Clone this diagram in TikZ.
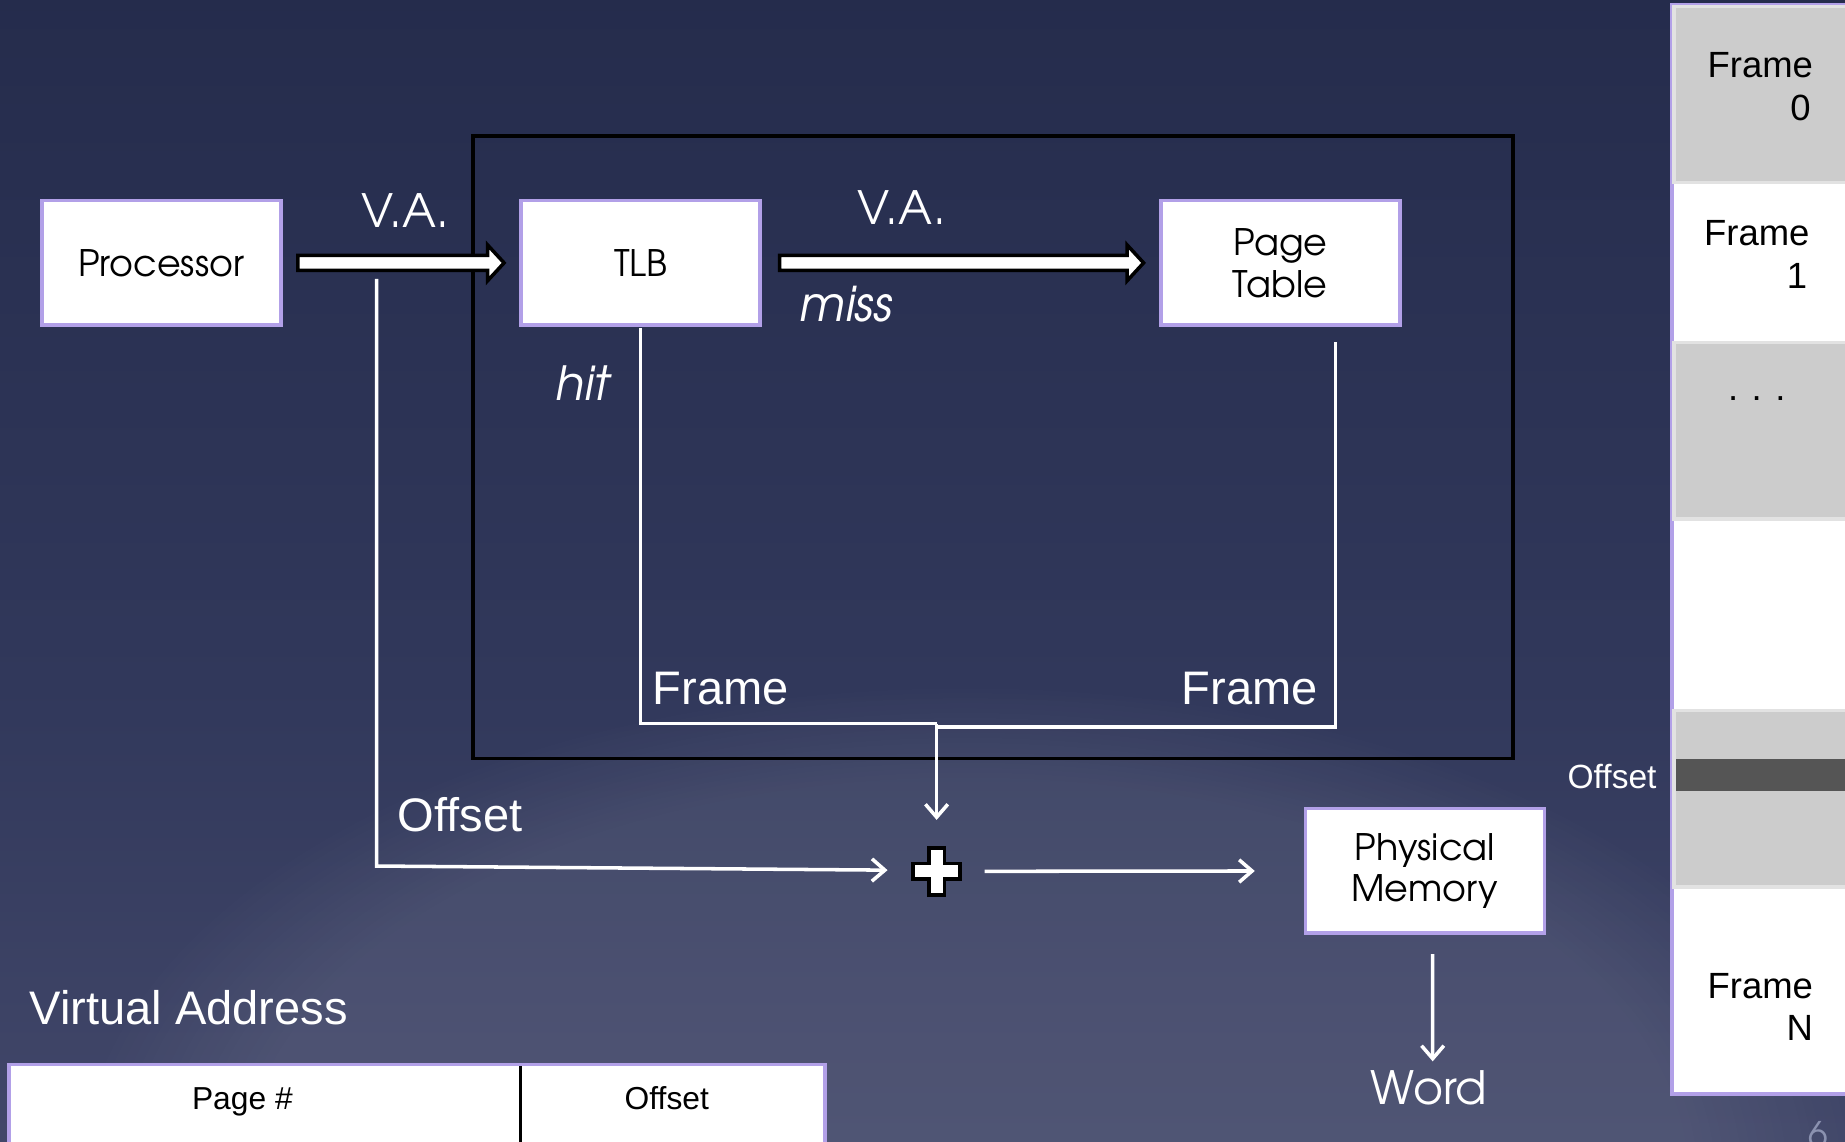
\documentclass[tikz,border=0pt]{standalone}
\usepackage{fontspec}
\setmainfont{Liberation Sans}
\newfontfamily\goth{TeX Gyre Adventor}
\usetikzlibrary{arrows.meta,calc,fadings}
\definecolor{bgtop}{RGB}{27,34,64}
\definecolor{bgmid}{RGB}{49,56,91}
\definecolor{bgbot}{RGB}{86,90,123}
\definecolor{boxpurple}{RGB}{178,160,232}
\definecolor{framegray}{RGB}{204,204,204}
\definecolor{frameedge}{RGB}{226,226,226}
\definecolor{darkband}{RGB}{85,85,85}
\definecolor{pagenum}{RGB}{139,146,176}
\pgfdeclareverticalshading{bgshade}{100bp}{color(0bp)=(bgbot); color(45bp)=(bgmid); color(100bp)=(bgtop)}
\newcommand{\hollowarrow}[2]{%
  \draw[hollow] ($(#1)+(0,-6.3)$) -| ($(#2)+(-14,-15.2)$) -- (#2) -- ($(#2)+(-14,15.2)$) |- ($(#1)+(0,6.3)$) -- cycle;}
\begin{document}
\begin{tikzpicture}[x=1pt,y=-1pt,
  box/.style={draw=boxpurple,line width=3.2pt,fill=white,minimum width=203pt,minimum height=106pt,inner sep=0pt,align=center,font=\goth\fontsize{31}{35.5}\selectfont},
  glbl/.style={text=white,inner sep=0pt,anchor=base,font=\goth\fontsize{39}{44}\selectfont},
  albl/.style={text=white,inner sep=0pt,anchor=base,font=\fontsize{40}{44}\selectfont},
  wire/.style={draw=white,line width=3pt},
  tip/.style={-{Straight Barb[length=11pt,width=19pt]}},
  hollow/.style={fill=white,draw=black,line width=3pt,line join=miter},
  graycell/.style={fill=framegray,draw=frameedge,line width=3pt},
  ftext/.style={anchor=base east,inner sep=0pt,font=\fontsize{31}{36}\selectfont},
  vtext/.style={anchor=base,inner sep=0pt,font=\fontsize{27}{30}\selectfont}
]
\useasboundingbox (0,0) rectangle (1568,970);
% background
\shade[shading=bgshade] (0,0) rectangle (1568,970);
\fill[white,opacity=0.08,path fading=circle with fuzzy edge 20 percent] (820,1000) ellipse [x radius=760, y radius=420];

% MMU container
\node[draw=black,line width=3pt,minimum width=884pt,minimum height=529pt,inner sep=0pt] (mmu) at (844,380) {};

% boxes
\node[box] (proc) at (137,223.4) {Processor};
\node[box] (tlb) at (544.5,223.4) {TLB};
\node[box] (pt) at (1088,223.4) {Page\\Table};
\node[box] (pm) at (1211,740.2) {Physical\\Memory};

% hollow arrows
\coordinate (h1s) at ($(proc.east)+(13,0)$);
\coordinate (h1e) at ($(tlb.west)+(-13,0)$);
\coordinate (h2s) at ($(tlb.east)+(15,0)$);
\coordinate (h2e) at ($(pt.west)+(-13,0)$);
\hollowarrow{h1s}{h1e}
\hollowarrow{h2s}{h2e}

% labels
\node[glbl] (va1) at (344.5,193) {V.A.};
\node[glbl] (va2) at (766.4,190.5) {V.A.};
\node[glbl,font=\goth\itshape\fontsize{41}{44}\selectfont] (miss) at (719,273.4) {miss};
\node[glbl,font=\goth\itshape\fontsize{40}{44}\selectfont] (hit) at (495,340) {hit};
\node[albl] (fr1) at (612.5,599) {Frame};
\node[albl] (fr2) at (1062,599) {Frame};
\node[albl] (off1) at (391,707) {Offset};
\node[glbl] (word) at (1214.3,939) {Word};

% adder
\node[minimum width=43pt,minimum height=42pt,inner sep=0pt] (plus) at (796,740.5) {};
\draw[hollow] ($(plus)+(-6.5,-20)$) -- ++(13,0) -- ++(0,13.5) -- ++(13.5,0) -- ++(0,13) -- ++(-13.5,0) -- ++(0,13.5) -- ++(-13,0) -- ++(0,-13.5) -- ++(-13.5,0) -- ++(0,-13) -- ++(13.5,0) -- cycle;

% wires
\coordinate (vaoff) at (320,237);
\coordinate (ptout) at ($(pt.south)+(47,13)$);
\coordinate (join) at (796,615);
\draw[wire,tip] (vaoff) -- (320,736) -- ($(plus.west)+(-20,-1)$);
\draw[wire] ($(tlb.south)+(0,1)$) |- (join);
\draw[wire] (ptout) |- (796,618);
\draw[wire,tip] (join) -- ($(plus.north)+(0,-22.5)$);
\draw[wire,tip] ($(plus.east)+(19,0)$) -- ($(pm.west)+(-41.5,0)$);
\draw[wire,tip] ($(pm.south)+(6.5,16)$) -- ($(word.north)+(3.3,-8)$);

% virtual address
\node[albl,font=\fontsize{40}{44}\selectfont,anchor=base west] (vatitle) at (25,871) {Virtual Address};
\draw[boxpurple,fill=white,line width=3pt] (7.5,904.5) rectangle (701,1000);
\draw[black,line width=3pt] (442.5,906) -- (442.5,1000);
\node[vtext] (pagenr) at (206,942.6) {Page \#};
\node[vtext] (voff) at (566.7,942.6) {Offset};

% physical memory frames
\fill[white] (1421,4) rectangle (1580,930);
\draw[boxpurple,line width=3.4pt] (1580,4) -- (1421,4) -- (1421,930) -- (1580,930);
\draw[graycell] (1422.5,5.5) rectangle (1580,155);
\draw[graycell] (1422.5,291) rectangle (1580,441);
\draw[graycell] (1422.5,604) rectangle (1580,754);
\fill[darkband] (1424,645) rectangle (1580,672);
\node[ftext] (f0a) at (1541,66) {Frame};
\node[ftext] (f0b) at (1539,102) {0};
\node[ftext] (f1a) at (1538,209) {Frame};
\node[ftext] (f1b) at (1536,245) {1};
\node[ftext,anchor=base] (fdots) at (1493,340) {. . .};
\node[ftext] (fna) at (1541,848.6) {Frame};
\node[ftext] (fnb) at (1541,884) {N};
\node[albl,font=\fontsize{28.5}{32}\selectfont] (off2) at (1370,670.5) {Offset};
\node[anchor=north west,inner sep=0pt,text=pagenum,font=\goth\fontsize{30}{32}\selectfont] (pnum) at (1537,953) {6};
\end{tikzpicture}
\end{document}
